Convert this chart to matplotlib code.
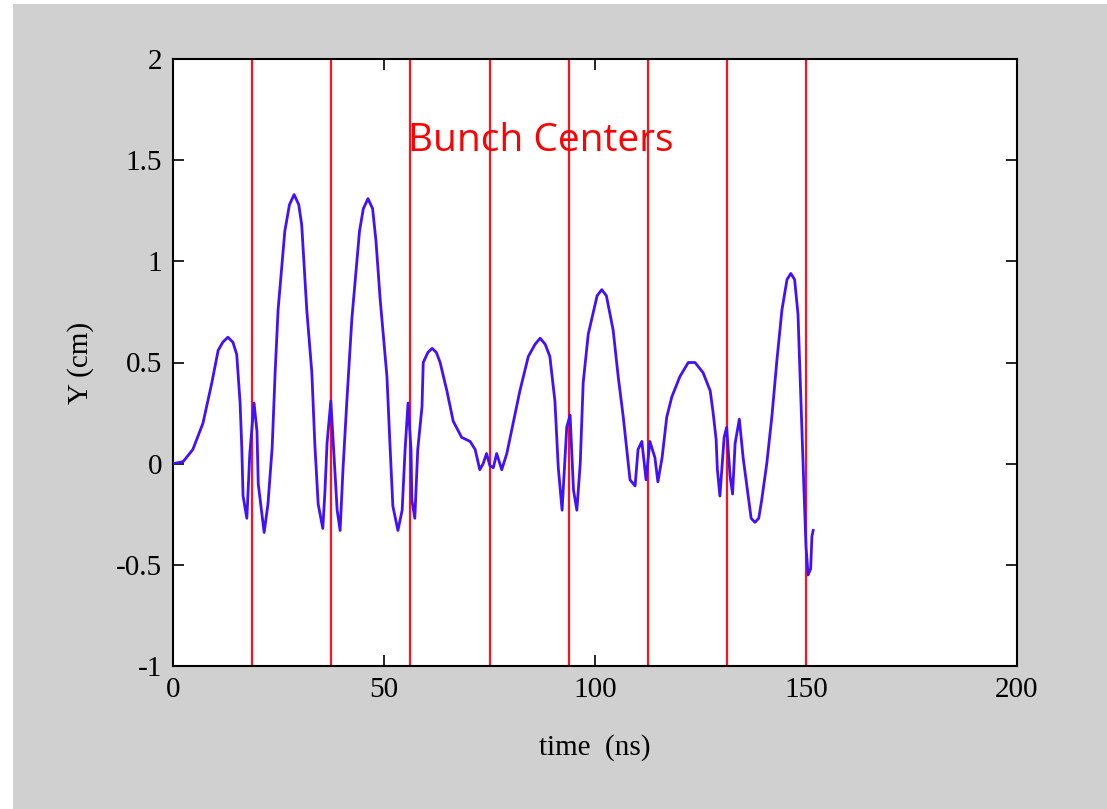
import matplotlib
matplotlib.use('agg')

import matplotlib.pyplot as plt
import matplotlib.patches as patches
import numpy as np


# values: time (ns) and Y (cm)
t_ns = [0.0, 2.4, 4.7, 7.1, 9.2, 10.7, 11.8, 13.0, 14.2, 15.1, 15.9, 16.3, 16.6, 17.5, 18.2,
        19.2, 19.9, 20.2, 21.6, 22.5, 23.5, 24.2, 24.9, 26.5, 27.6, 28.7, 29.8, 30.5, 31.7,
        32.9, 33.6, 34.4, 35.5, 36.0, 36.5, 37.4, 37.9, 38.9, 39.6, 40.3, 41.2,
        42.4, 44.2, 45.1, 46.2, 47.3, 48.1, 49.1, 50.7, 51.4, 52.1, 53.3, 54.3, 55.0, 55.7,
        56.4, 56.6, 57.3, 58.0, 59.0, 59.3, 60.4, 61.4, 62.4, 63.3, 64.9, 66.4, 68.4, 70.4,
        71.6, 72.7, 73.5, 74.3, 75.1, 75.9, 76.7, 77.9, 79.1, 80.6, 82.2, 84.2,
        85.8, 87.0, 88.2, 89.3, 90.5, 91.3, 92.2, 93.3, 94.1, 94.9, 95.7, 96.5, 97.2, 98.4,
        100.5, 101.6, 102.7, 104.3, 105.5, 106.7, 108.3, 109.5, 110.2, 111.1, 112.1, 113.0,
        114.2, 114.9, 115.9, 117.0, 118.2, 120.1, 122.1, 123.7, 125.6, 127.3,
        128.0, 128.7, 129.0, 129.6, 130.6, 131.2, 132.0, 132.6, 133.2, 134.2,
        135.1, 136.3, 137.0, 137.9, 138.8, 139.5, 140.7, 141.9, 143.1, 144.3,
        145.5, 146.4, 147.3, 148.1,
        148.8, 149.5, 150.0, 150.5, 151.1, 151.4, 151.7]
y_cm = [0.0, 0.01, 0.07, 0.2, 0.4, 0.56, 0.6, 0.625, 0.6, 0.54, 0.3, 0.08, -0.16, -0.27, 0.05,
        0.3, 0.16, -0.1, -0.34, -0.2, 0.08, 0.45, 0.76, 1.15, 1.28, 1.33, 1.28, 1.18, 0.76,
        0.45, 0.1, -0.2, -0.32, -0.14, 0.1, 0.31, 0.13, -0.23, -0.33, -0.02, 0.31,
        0.72, 1.15, 1.26, 1.31, 1.26, 1.1, 0.81, 0.43, 0.1, -0.21, -0.33, -0.23, 0.07, 0.3,
        0.07, -0.18, -0.27, 0.07, 0.28, 0.5, 0.55, 0.57, 0.55, 0.5, 0.36, 0.21, 0.13, 0.11,
        0.07, -0.03, 0.0, 0.05, -0.01, -0.02, 0.05, -0.03, 0.05, 0.2, 0.36, 0.53,
        0.59, 0.62, 0.59, 0.53, 0.31, -0.02, -0.23, 0.18, 0.24, -0.13, -0.23, 0.0, 0.4, 0.64,
        0.83, 0.86, 0.83, 0.66, 0.43, 0.23, -0.08, -0.11, 0.07, 0.11, -0.08, 0.11,
        0.03, -0.09, 0.03, 0.23, 0.33, 0.43, 0.5, 0.5, 0.45, 0.36,
        0.25, 0.12, -0.03, -0.16, 0.13, 0.18, -0.06, -0.15, 0.1, 0.22,
        0.03, -0.16, -0.27, -0.29, -0.27, -0.18, 0.0, 0.23, 0.51, 0.76,
        0.91, 0.94, 0.91, 0.74,
        0.31, -0.12, -0.41, -0.55, -0.52, -0.36, -0.33]

bunch_centers = [18.75, 37.5, 56.25, 75.0, 93.75, 112.5, 131.25, 150.0]

x_ticks = [0, 50, 100, 150, 200]
y_ticks = [-1, -0.5, 0, 0.5, 1, 1.5, 2]
y_tick_labels = ['-1', '-0.5', '0', '0.5', '1', '1.5', '2']


# grey screenshot panel, with a thin white margin left and top
fig = plt.figure(figsize=(11.07, 8.09), dpi=100, facecolor='#d0d0d0')
fig.patches.append(patches.Rectangle((0, 0), 13/1107, 1, transform=fig.transFigure,
                                     facecolor='white', edgecolor='none'))
fig.patches.append(patches.Rectangle((0, 1 - 4/809), 1, 4/809, transform=fig.transFigure,
                                     facecolor='white', edgecolor='none'))

ax = fig.add_axes([173/1107, 1 - 666/809, (1017-173)/1107, (666-59)/809])
ax.set_facecolor('white')

for xc in bunch_centers:
    ax.axvline(xc, color='#ff1020', lw=1.6, zorder=2)

ax.plot(t_ns, y_cm, color='#4010ff', lw=2.0, zorder=3)

ax.text(87.2, 1.595, 'Bunch Centers', color='#ff0000', fontsize=28,
        family='Open Sans', ha='center', va='center', zorder=4)

ax.set_xlim(0, 200)
ax.set_ylim(-1, 2)
ax.set_xticks(x_ticks)
ax.set_yticks(y_ticks)
ax.set_yticklabels(y_tick_labels)
ax.tick_params(direction='in', length=8, width=1.2, top=True, right=True,
               labelsize=21, pad=8)
for lbl in ax.get_xticklabels() + ax.get_yticklabels():
    lbl.set_family('Liberation Serif')
for sp in ax.spines.values():
    sp.set_linewidth(1.5)

ax.set_xlabel('time  (ns)', family='Liberation Serif', fontsize=21, labelpad=22)
ax.set_ylabel('Y (cm)', family='Liberation Serif', fontsize=21, labelpad=16)

plt.savefig('out.png', dpi=100, facecolor=fig.get_facecolor())
